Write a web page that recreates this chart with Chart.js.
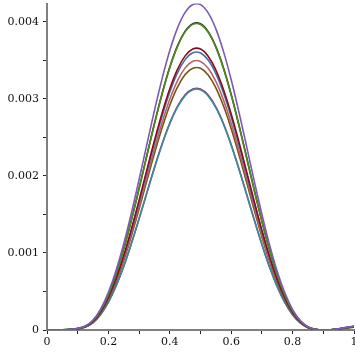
<!DOCTYPE html>
<html>
<head>
<meta charset="utf-8">
<script src="https://cdn.jsdelivr.net/npm/chart.js@4/dist/chart.umd.min.js"></script>
<style>
html,body{margin:0;padding:0;background:#fff;overflow:hidden;}
#wrap{width:355px;height:355px;position:relative;}
canvas{display:block;}
</style>
</head>
<body>
<div id="wrap"><canvas id="c" width="355" height="355"></canvas></div>
<script>
const xs = [0,0.025,0.05,0.075,0.1,0.125,0.15,0.175,0.2,0.225,0.25,0.275,0.3,0.325,0.35,0.375,0.4,0.425,0.45,0.475,0.5,0.525,0.55,0.575,0.6,0.625,0.65,0.675,0.7,0.725,0.75,0.775,0.8,0.825,0.85,0.875,0.9,0.925,0.95,0.975,1];

const purple  = [0,0,0.000002,0.000008,0.000021,0.000051,0.000128,0.000274,0.000490,0.000774,0.001120,0.001519,0.001954,0.002405,0.002850,0.003265,0.003629,0.003920,0.004124,0.004228,0.004226,0.004118,0.003911,0.003615,0.003250,0.002832,0.002387,0.001936,0.001503,0.001105,0.000760,0.000480,0.000266,0.000123,0.000041,0.000008,0,0.000004,0.000017,0.000034,0.000051];
const black   = [0,0,0.000002,0.000008,0.000020,0.000048,0.000121,0.000257,0.000461,0.000728,0.001054,0.001430,0.001839,0.002263,0.002682,0.003072,0.003415,0.003689,0.003881,0.003978,0.003976,0.003875,0.003680,0.003402,0.003058,0.002665,0.002246,0.001822,0.001414,0.001039,0.000715,0.000451,0.000251,0.000116,0.000038,0.000008,0,0.000004,0.000016,0.000032,0.000048];
const green   = [0,0,0.000002,0.000008,0.000020,0.000048,0.000120,0.000257,0.000460,0.000726,0.001051,0.001426,0.001834,0.002258,0.002675,0.003065,0.003407,0.003680,0.003871,0.003969,0.003967,0.003865,0.003671,0.003394,0.003050,0.002659,0.002240,0.001818,0.001411,0.001037,0.000713,0.000450,0.000250,0.000116,0.000038,0.000008,0,0.000004,0.000016,0.000032,0.000048];
const darkred = [0,0,0.000002,0.000007,0.000018,0.000044,0.000111,0.000236,0.000423,0.000668,0.000967,0.001311,0.001687,0.002076,0.002460,0.002818,0.003133,0.003384,0.003560,0.003649,0.003648,0.003555,0.003376,0.003121,0.002805,0.002445,0.002060,0.001672,0.001297,0.000953,0.000656,0.000414,0.000230,0.000107,0.000035,0.000007,0,0.000004,0.000015,0.000029,0.000044];
const blue    = [0,0,0.000002,0.000007,0.000018,0.000043,0.000109,0.000233,0.000417,0.000659,0.000953,0.001294,0.001664,0.002048,0.002427,0.002780,0.003090,0.003338,0.003511,0.003600,0.003598,0.003506,0.003330,0.003078,0.002767,0.002412,0.002032,0.001649,0.001279,0.000940,0.000647,0.000408,0.000227,0.000105,0.000035,0.000007,0,0.000004,0.000014,0.000029,0.000043];
const pink    = [0,0,0.000002,0.000007,0.000018,0.000042,0.000106,0.000226,0.000404,0.000639,0.000924,0.001254,0.001613,0.001985,0.002353,0.002695,0.002996,0.003236,0.003404,0.003490,0.003488,0.003399,0.003228,0.002985,0.002682,0.002338,0.001970,0.001599,0.001240,0.000912,0.000627,0.000396,0.000220,0.000102,0.000034,0.000007,0,0.000004,0.000014,0.000028,0.000042];
const brown   = [0,0,0.000002,0.000007,0.000017,0.000041,0.000103,0.000220,0.000394,0.000622,0.000901,0.001222,0.001572,0.001934,0.002292,0.002626,0.002919,0.003153,0.003317,0.003400,0.003398,0.003312,0.003145,0.002908,0.002613,0.002278,0.001920,0.001557,0.001209,0.000888,0.000611,0.000386,0.000214,0.000099,0.000033,0.000007,0,0.000003,0.000014,0.000027,0.000041];
const magenta = [0,0,0.000002,0.000006,0.000016,0.000038,0.000095,0.000203,0.000363,0.000573,0.000829,0.001125,0.001447,0.001781,0.002111,0.002418,0.002688,0.002903,0.003054,0.003131,0.003129,0.003050,0.002896,0.002678,0.002407,0.002098,0.001768,0.001434,0.001113,0.000818,0.000563,0.000355,0.000197,0.000091,0.000030,0.000006,0,0.000003,0.000013,0.000025,0.000038];
const teal    = [0,0,0.000002,0.000006,0.000016,0.000038,0.000095,0.000202,0.000362,0.000571,0.000827,0.001122,0.001443,0.001775,0.002104,0.002410,0.002679,0.002894,0.003044,0.003121,0.003119,0.003040,0.002887,0.002669,0.002399,0.002091,0.001762,0.001430,0.001109,0.000815,0.000561,0.000354,0.000197,0.000091,0.000030,0.000006,0,0.000003,0.000013,0.000025,0.000038];

// Chart.js paints dataset 0 on top, so list from top layer to bottom layer
const seriesList = [
  {name:'purple',  values:purple,  color:'#7b5ab6'},
  {name:'green',   values:green,   color:'#4e8a1c'},
  {name:'black',   values:black,   color:'#243024'},
  {name:'darkred', values:darkred, color:'#8a0c1c'},
  {name:'blue',    values:blue,    color:'#4a6ea8'},
  {name:'pink',    values:pink,    color:'#b4646e'},
  {name:'brown',   values:brown,   color:'#7a5512'},
  {name:'teal',    values:teal,    color:'#3a8a9c'},
  {name:'magenta', values:magenta, color:'#9a3a78'}
];

const datasets = seriesList.map(s => ({
  label: s.name,
  data: xs.map((x,i) => ({x:x, y:s.values[i]})),
  borderColor: s.color,
  borderWidth: 1.6,
  pointRadius: 0,
  fill: false,
  tension: 0.4
}));

const font = {family:'"DejaVu Serif", serif', size: 11};

new Chart(document.getElementById('c'), {
  type: 'line',
  data: {datasets: datasets},
  options: {
    responsive: false,
    animation: false,
    layout: {padding: {top: 3.5, right: 1, left: 0, bottom: 0}},
    plugins: {legend: {display:false}, tooltip: {enabled:false}},
    scales: {
      x: {
        type: 'linear', min: 0, max: 1,
        border: {color:'#808080', width: 2},
        grid: {drawOnChartArea:false, drawTicks:true, tickLength:4, color:'#222'},
        ticks: {
          stepSize: 0.1, autoSkip:false, maxRotation:0, includeBounds:false,
          color:'#111', font: font, padding: 2,
          callback: v => {
            const r = Math.round(v*10);
            if (r % 2 !== 0) return '';
            if (r === 0) return '0';
            if (r === 10) return '1';
            return (r/10).toFixed(1);
          }
        },
        afterFit: s => { s.height = 25; s.paddingLeft = 0; s.paddingRight = 0; }
      },
      y: {
        type: 'linear', min: 0, max: 0.00424,
        border: {color:'#808080', width: 2},
        grid: {drawOnChartArea:false, drawTicks:true, tickLength:4, color:'#222'},
        ticks: {
          stepSize: 0.0005, autoSkip:false, includeBounds:false,
          color:'#111', font: font, padding: 4,
          callback: v => {
            const r = Math.round(v/0.0005);
            if (r % 2 !== 0) return '';
            if (r === 0) return '0';
            return (r/2000).toFixed(3);
          }
        },
        afterFit: s => { s.width = 47; s.paddingTop = 0; s.paddingBottom = 0; }
      }
    }
  }
});
</script>
</body>
</html>
